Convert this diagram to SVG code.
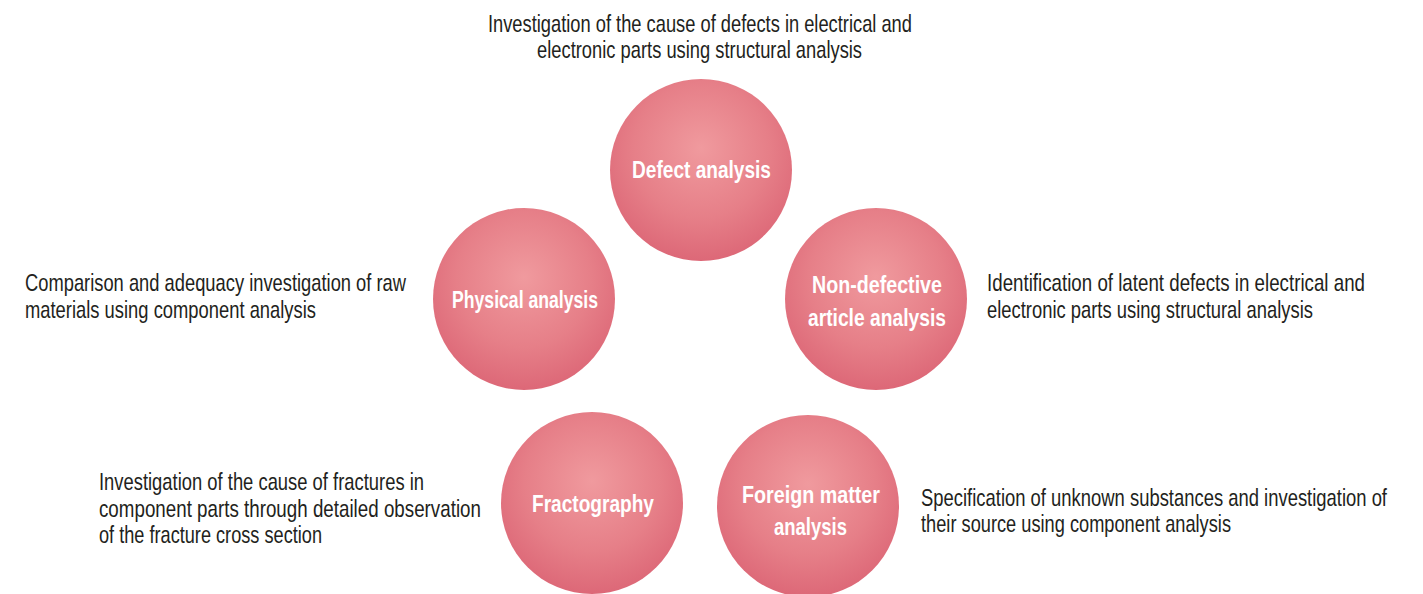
<svg xmlns="http://www.w3.org/2000/svg" width="1423" height="594" viewBox="0 0 1423 594">
  <defs>
    <radialGradient id="ball" cx="0.5" cy="0.4" r="0.62" fx="0.5" fy="0.38">
      <stop offset="0" stop-color="#F09A9E"/>
      <stop offset="0.6" stop-color="#E67F88"/>
      <stop offset="1" stop-color="#DC6676"/>
    </radialGradient>
    <style>
      .ball { fill: url(#ball); }
      .lbl { font-family: "Liberation Sans", Arial, sans-serif; font-weight: bold; font-size: 23px; fill: #FFFFFF; }
      .desc { font-family: "Liberation Sans", Arial, sans-serif; font-size: 24px; fill: #231F20; }
    </style>
  </defs>
  <rect width="1423" height="594" fill="#FFFFFF"/>

  <g id="connectors"/>

  <!-- Labels are condensed horizontally: x and textLength are given in the scaled frame -->

  <!-- Defect analysis -->
  <g id="defect-analysis">
    <circle class="ball" cx="701" cy="170" r="91"/>
    <text class="lbl" transform="scale(0.75 1)" x="842.7" y="178" textLength="185.3" lengthAdjust="spacingAndGlyphs">Defect analysis</text>
    <text class="desc" transform="scale(0.78 1)" x="625.6" y="32" textLength="543.6" lengthAdjust="spacingAndGlyphs">Investigation of the cause of defects in electrical and</text>
    <text class="desc" transform="scale(0.78 1)" x="688.5" y="58" textLength="416.7" lengthAdjust="spacingAndGlyphs">electronic parts using structural analysis</text>
  </g>

  <!-- Physical analysis -->
  <g id="physical-analysis">
    <circle class="ball" cx="524" cy="299" r="91"/>
    <text class="lbl" transform="scale(0.75 1)" x="602.7" y="308" textLength="194.7" lengthAdjust="spacingAndGlyphs">Physical analysis</text>
    <text class="desc" transform="scale(0.78 1)" x="32.05" y="291" textLength="488.5" lengthAdjust="spacingAndGlyphs">Comparison and adequacy investigation of raw</text>
    <text class="desc" transform="scale(0.78 1)" x="32.05" y="318" textLength="373.1" lengthAdjust="spacingAndGlyphs">materials using component analysis</text>
  </g>

  <!-- Non-defective article analysis -->
  <g id="non-defective-analysis">
    <circle class="ball" cx="876" cy="299" r="91"/>
    <text class="lbl" transform="scale(0.75 1)" x="1082.7" y="293" textLength="173.3" lengthAdjust="spacingAndGlyphs">Non-defective</text>
    <text class="lbl" transform="scale(0.75 1)" x="1077.3" y="326" textLength="184" lengthAdjust="spacingAndGlyphs">article analysis</text>
    <text class="desc" transform="scale(0.78 1)" x="1265.4" y="291" textLength="484.6" lengthAdjust="spacingAndGlyphs">Identification of latent defects in electrical and</text>
    <text class="desc" transform="scale(0.78 1)" x="1265.4" y="318" textLength="417.9" lengthAdjust="spacingAndGlyphs">electronic parts using structural analysis</text>
  </g>

  <!-- Fractography -->
  <g id="fractography">
    <circle class="ball" cx="592" cy="503" r="91"/>
    <text class="lbl" transform="scale(0.75 1)" x="709.3" y="512" textLength="162.7" lengthAdjust="spacingAndGlyphs">Fractography</text>
    <text class="desc" transform="scale(0.78 1)" x="126.9" y="490" textLength="416.7" lengthAdjust="spacingAndGlyphs">Investigation of the cause of fractures in</text>
    <text class="desc" transform="scale(0.78 1)" x="126.9" y="517" textLength="489.7" lengthAdjust="spacingAndGlyphs">component parts through detailed observation</text>
    <text class="desc" transform="scale(0.78 1)" x="126.9" y="543" textLength="285.9" lengthAdjust="spacingAndGlyphs">of the fracture cross section</text>
  </g>

  <!-- Foreign matter analysis -->
  <g id="foreign-matter-analysis">
    <circle class="ball" cx="808" cy="506" r="91"/>
    <text class="lbl" transform="scale(0.75 1)" x="989.3" y="503" textLength="184" lengthAdjust="spacingAndGlyphs">Foreign matter</text>
    <text class="lbl" transform="scale(0.75 1)" x="1032" y="535" textLength="97.3" lengthAdjust="spacingAndGlyphs">analysis</text>
    <text class="desc" transform="scale(0.78 1)" x="1180.8" y="506" textLength="597.4" lengthAdjust="spacingAndGlyphs">Specification of unknown substances and investigation of</text>
    <text class="desc" transform="scale(0.78 1)" x="1180.8" y="532" textLength="397.4" lengthAdjust="spacingAndGlyphs">their source using component analysis</text>
  </g>
</svg>
